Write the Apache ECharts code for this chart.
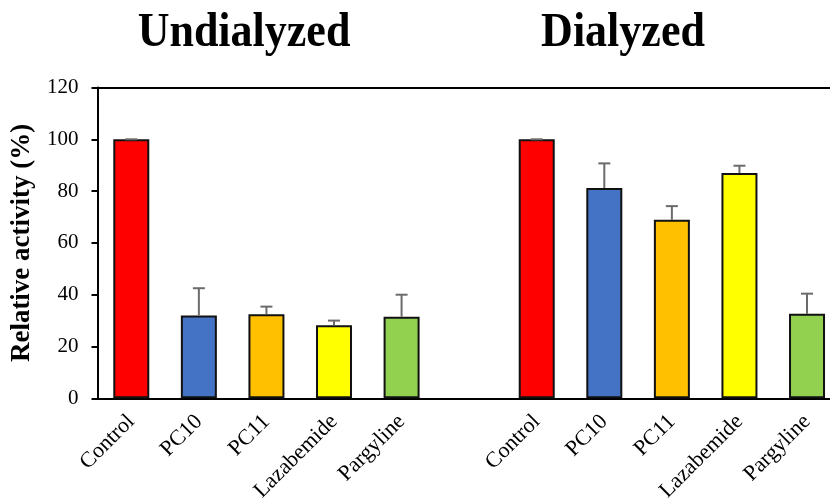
<!DOCTYPE html>
<html>
<head>
<meta charset="utf-8">
<script src="https://cdn.jsdelivr.net/npm/echarts@6/dist/echarts.min.js"></script>
<style>
  html, body { margin: 0; padding: 0; background: #fff; overflow: hidden; }
  #chart { width: 830px; height: 501px; }
</style>
</head>
<body>
<div id="chart"></div>
<script>
// Category slots: two groups of five with an empty slot between them
const categories = ['Control', 'PC10', 'PC11', 'Lazabemide', 'Pargyline', '',
                    'Control', 'PC10', 'PC11', 'Lazabemide', 'Pargyline'];
// Relative activity (%) and upper error (SD)
const activity = [100, 32, 32.5, 28.2, 31.5, null, 100, 81.2, 68.9, 87, 32.6];
const errors   = [0, 10.5, 2.9, 1.8, 8.5, null, 0, 9.5, 5.3, 2.8, 7.8];
const barColors = ['#FF0000', '#4472C4', '#FFC000', '#FFFF00', '#92D050', '#FFFFFF',
                   '#FF0000', '#4472C4', '#FFC000', '#FFFF00', '#92D050'];
const yTicks = [0, 20, 40, 60, 80, 100, 120];
const groupTitles = ['Undialyzed', 'Dialyzed'];

const chart = echarts.init(document.getElementById('chart'), null, { renderer: 'canvas' });

const serif = '"Liberation Serif", "Times New Roman", serif';

// Slot i is centred at i + 0.5; the axis is cut at the right edge of the plot
const X_MAX = 10.84;
const slotLabel = (v) => {
  const k = Math.round(v - 0.5);
  return Math.abs(v - 0.5 - k) < 1e-6 && k >= 0 && k < categories.length ? categories[k] : '';
};

const barData = activity.map((v, i) => ({
  value: [i + 0.5, v],
  itemStyle: { color: barColors[i] }
}));

const errData = activity.map((v, i) => v == null ? [i + 0.5, null, null] : [i + 0.5, v, v + errors[i]]);

chart.setOption({
  animation: false,
  backgroundColor: '#fff',
  grid: { left: 97.5, right: 0, top: 87.5, bottom: 102.7, containLabel: false, outerBoundsMode: 'none' },
  graphic: [
    {
      type: 'text', x: 244, y: 34, scaleY: 1.08,
      style: { text: groupTitles[0], font: 'bold 44px ' + serif, fill: '#000',
               align: 'center', verticalAlign: 'middle' }
    },
    {
      type: 'text', x: 623, y: 34, scaleY: 1.08,
      style: { text: groupTitles[1], font: 'bold 44px ' + serif, fill: '#000',
               align: 'center', verticalAlign: 'middle' }
    }
  ],
  xAxis: [
    {
      type: 'value',
      min: 0, max: X_MAX, interval: 0.5,
      axisLine: { onZero: false, lineStyle: { color: '#000', width: 2 } },
      axisTick: { show: false },
      splitLine: { show: false },
      axisLabel: {
        rotate: 45, margin: 20, showMinLabel: false, showMaxLabel: false,
        hideOverlap: false,
        fontFamily: serif, fontSize: 22, color: '#000',
        formatter: slotLabel
      }
    },
    {
      // top frame line
      type: 'value',
      position: 'top',
      min: 0, max: X_MAX,
      axisLine: { show: true, onZero: false, lineStyle: { color: '#000', width: 2 } },
      axisTick: { show: false },
      axisLabel: { show: false },
      splitLine: { show: false }
    }
  ],
  yAxis: {
    type: 'value',
    min: yTicks[0], max: yTicks[yTicks.length - 1], interval: 20,
    name: 'Relative activity (%)',
    nameLocation: 'middle',
    nameRotate: 90,
    nameGap: 62,
    nameTextStyle: { fontFamily: serif, fontSize: 27, fontWeight: 'bold', color: '#000' },
    axisLine: { show: true, onZero: false, lineStyle: { color: '#000', width: 2 } },
    axisTick: { show: true, inside: false, length: 6, lineStyle: { color: '#000', width: 2 } },
    axisLabel: { fontFamily: serif, fontSize: 21, color: '#000', margin: 19 },
    splitLine: { show: false }
  },
  series: [
    {
      type: 'bar',
      data: barData,
      barWidth: 36,
      itemStyle: { borderColor: '#111', borderWidth: 2 },
      z: 2
    },
    {
      type: 'custom',
      z: 3,
      data: errData,
      renderItem: function (params, api) {
        const v = api.value(1);
        if (v == null || isNaN(v)) return null;
        const x = api.value(0);
        const base = api.coord([x, v]);
        const top = api.coord([x, api.value(2)]);
        const half = 6;
        const style = { stroke: '#6b6b6b', lineWidth: 2 };
        return {
          type: 'group',
          children: [
            { type: 'line', shape: { x1: base[0], y1: base[1], x2: top[0], y2: top[1] }, style },
            { type: 'line', shape: { x1: top[0] - half, y1: top[1], x2: top[0] + half, y2: top[1] }, style }
          ]
        };
      }
    }
  ]
});
</script>
</body>
</html>
